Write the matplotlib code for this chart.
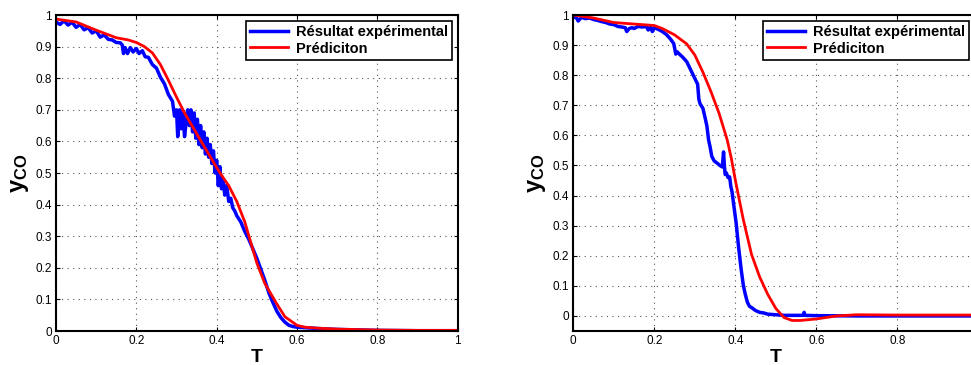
import matplotlib.pyplot as plt

plt.rcParams['font.family'] = ['Liberation Sans', 'DejaVu Sans']
plt.rcParams['mathtext.fontset'] = 'custom'
plt.rcParams['mathtext.bf'] = 'Liberation Sans:bold'
plt.rcParams['mathtext.rm'] = 'Liberation Sans'

# left panel: experimental result (noisy) and prediction
t_exp_left = [0.000, 0.010, 0.020, 0.030, 0.040, 0.050, 0.060, 0.070, 0.080, 0.090,
              0.100, 0.110, 0.120, 0.130, 0.140, 0.150, 0.160, 0.165, 0.168, 0.172,
              0.178, 0.185, 0.192, 0.200, 0.207, 0.215, 0.222, 0.230, 0.240, 0.250,
              0.260, 0.270, 0.280, 0.290, 0.295, 0.300, 0.303, 0.308, 0.312, 0.316,
              0.320, 0.324, 0.328, 0.332, 0.336, 0.340, 0.344, 0.348, 0.352, 0.356,
              0.360, 0.364, 0.368, 0.372, 0.376, 0.380, 0.384, 0.388, 0.392, 0.396,
              0.400, 0.404, 0.408, 0.412, 0.416, 0.420, 0.425, 0.430, 0.435, 0.440,
              0.445, 0.450, 0.460, 0.470, 0.480, 0.490, 0.500, 0.510, 0.520, 0.530,
              0.540, 0.550, 0.560, 0.570, 0.580, 0.590, 0.600, 0.650, 0.700, 0.800,
              0.900, 1.000]
y_exp_left = [0.978, 0.970, 0.982, 0.968, 0.977, 0.961, 0.970, 0.953, 0.960, 0.943,
              0.950, 0.930, 0.937, 0.923, 0.921, 0.913, 0.912, 0.905, 0.878, 0.897,
              0.878, 0.897, 0.883, 0.894, 0.878, 0.887, 0.868, 0.866, 0.843, 0.832,
              0.803, 0.782, 0.748, 0.727, 0.680, 0.700, 0.615, 0.700, 0.640, 0.690,
              0.615, 0.660, 0.700, 0.650, 0.700, 0.630, 0.690, 0.610, 0.670, 0.590,
              0.650, 0.580, 0.630, 0.560, 0.610, 0.550, 0.590, 0.530, 0.570, 0.500,
              0.540, 0.460, 0.520, 0.450, 0.480, 0.430, 0.460, 0.410, 0.420, 0.390,
              0.380, 0.365, 0.345, 0.315, 0.290, 0.260, 0.230, 0.195, 0.160, 0.120,
              0.090, 0.062, 0.042, 0.028, 0.018, 0.014, 0.012, 0.008, 0.005, 0.002,
              0.001, 0.001]
t_pred_left = [0.00, 0.05, 0.10, 0.15, 0.18, 0.20, 0.22, 0.24, 0.26, 0.28, 0.30, 0.32,
               0.35, 0.38, 0.40, 0.42, 0.43, 0.45, 0.47, 0.50, 0.52, 0.55, 0.57, 0.60,
               0.62, 0.65, 0.70, 0.80, 0.90, 1.00]
y_pred_left = [0.987, 0.978, 0.952, 0.928, 0.921, 0.913, 0.900, 0.880, 0.843, 0.793,
               0.740, 0.690, 0.625, 0.560, 0.517, 0.478, 0.460, 0.410, 0.345, 0.215,
               0.150, 0.085, 0.045, 0.018, 0.012, 0.009, 0.006, 0.003, 0.002, 0.002]

# right panel
t_exp_right = [0.000, 0.008, 0.012, 0.020, 0.030, 0.040, 0.050, 0.060, 0.070, 0.080,
               0.090, 0.100, 0.110, 0.120, 0.128, 0.132, 0.138, 0.145, 0.150, 0.160,
               0.170, 0.180, 0.185, 0.190, 0.195, 0.200, 0.210, 0.220, 0.230, 0.240,
               0.248, 0.253, 0.256, 0.262, 0.270, 0.280, 0.289, 0.298, 0.307, 0.310,
               0.313, 0.320, 0.326, 0.330, 0.334, 0.338, 0.342, 0.348, 0.355, 0.362,
               0.368, 0.371, 0.373, 0.375, 0.378, 0.382, 0.386, 0.389, 0.392, 0.396,
               0.402, 0.408, 0.414, 0.420, 0.425, 0.430, 0.435, 0.440, 0.450, 0.460,
               0.470, 0.480, 0.500, 0.520, 0.550, 0.568, 0.570, 0.572, 0.600, 0.700,
               0.800, 0.900, 1.000]
y_exp_right = [0.995, 0.990, 0.980, 0.992, 0.988, 0.990, 0.985, 0.982, 0.978, 0.975,
               0.970, 0.968, 0.962, 0.960, 0.958, 0.945, 0.955, 0.958, 0.955, 0.962,
               0.960, 0.962, 0.950, 0.962, 0.945, 0.958, 0.952, 0.945, 0.935, 0.920,
               0.905, 0.870, 0.878, 0.870, 0.860, 0.845, 0.820, 0.795, 0.770, 0.720,
               0.705, 0.690, 0.655, 0.630, 0.585, 0.560, 0.530, 0.515, 0.508, 0.500,
               0.495, 0.545, 0.500, 0.470, 0.475, 0.460, 0.462, 0.430, 0.412, 0.370,
               0.310, 0.230, 0.160, 0.100, 0.070, 0.045, 0.032, 0.028, 0.018, 0.012,
               0.010, 0.006, 0.004, 0.002, 0.002, 0.002, 0.012, 0.002, 0.001, 0.000,
               0.000, 0.000, 0.000]
t_pred_right = [0.00, 0.05, 0.10, 0.15, 0.20, 0.22, 0.25, 0.28, 0.30, 0.32, 0.34, 0.36,
                0.38, 0.39, 0.40, 0.41, 0.42, 0.44, 0.46, 0.48, 0.50, 0.52, 0.54, 0.56,
                0.60, 0.65, 0.70, 0.80, 0.90, 1.00]
y_pred_right = [1.000, 0.990, 0.975, 0.970, 0.965, 0.955, 0.934, 0.904, 0.867, 0.810,
                0.745, 0.673, 0.585, 0.525, 0.452, 0.385, 0.319, 0.205, 0.130, 0.072,
                0.025, -0.005, -0.015, -0.015, -0.010, 0.000, 0.004, 0.003, 0.003, 0.003]

x_ticks = [0, 0.2, 0.4, 0.6, 0.8, 1.0]
x_labels_left = ['0', '0.2', '0.4', '0.6', '0.8', '1']
x_labels_right = ['0', '0.2', '0.4', '0.6', '0.8', '']
y_ticks = [0, 0.1, 0.2, 0.3, 0.4, 0.5, 0.6, 0.7, 0.8, 0.9, 1.0]
y_labels = ['0', '0.1', '0.2', '0.3', '0.4', '0.5', '0.6', '0.7', '0.8', '0.9', '1']

fig = plt.figure(figsize=(9.71, 3.65), dpi=100)
W, H = 971, 365
ax1 = fig.add_axes([56 / W, 34 / H, 401.7 / W, 316 / H])
ax2 = fig.add_axes([573.3 / W, 34 / H, 405 / W, 316 / H])

panels = [
    (ax1, t_exp_left, y_exp_left, t_pred_left, y_pred_left, (0, 1), x_labels_left, 452),
    (ax2, t_exp_right, y_exp_right, t_pred_right, y_pred_right, (-0.05, 1), x_labels_right, 969),
]
for ax, te, ye, tp, yp, ylim, xl, leg_right in panels:
    ax.plot(te, ye, color='#0000ff', lw=2.5, label='Résultat expérimental')
    ax.plot(tp, yp, color='#ff0000', lw=2.0, label='Prédiciton')
    ax.set_xlim(0, 1)
    ax.set_ylim(*ylim)
    ax.set_xticks(x_ticks)
    ax.set_xticklabels(xl)
    ax.set_yticks(y_ticks)
    ax.set_yticklabels(y_labels)
    ax.tick_params(direction='in', top=True, right=True, labelsize=8.5, length=3, pad=3)
    ax.grid(True, linestyle=(0, (1, 4)), color='#555555', lw=0.8)
    for s in ax.spines.values():
        s.set_linewidth(1.5)
    ax.set_xlabel('T', fontsize=14, fontweight='bold', labelpad=1)
    ax.set_ylabel(r'$\mathbf{y_{CO}}$', fontsize=17, labelpad=3)
    leg = ax.legend(loc='upper right', bbox_to_anchor=(leg_right / W, 1 - 21 / H),
                    bbox_transform=fig.transFigure, borderaxespad=0,
                    prop={'weight': 'bold', 'size': 10.5},
                    fancybox=False, edgecolor='black', framealpha=1,
                    handlelength=2.6, handletextpad=0.5,
                    borderpad=0.3, labelspacing=0.15)
    leg.get_frame().set_linewidth(1.2)

fig.savefig('out.png', dpi=100)
